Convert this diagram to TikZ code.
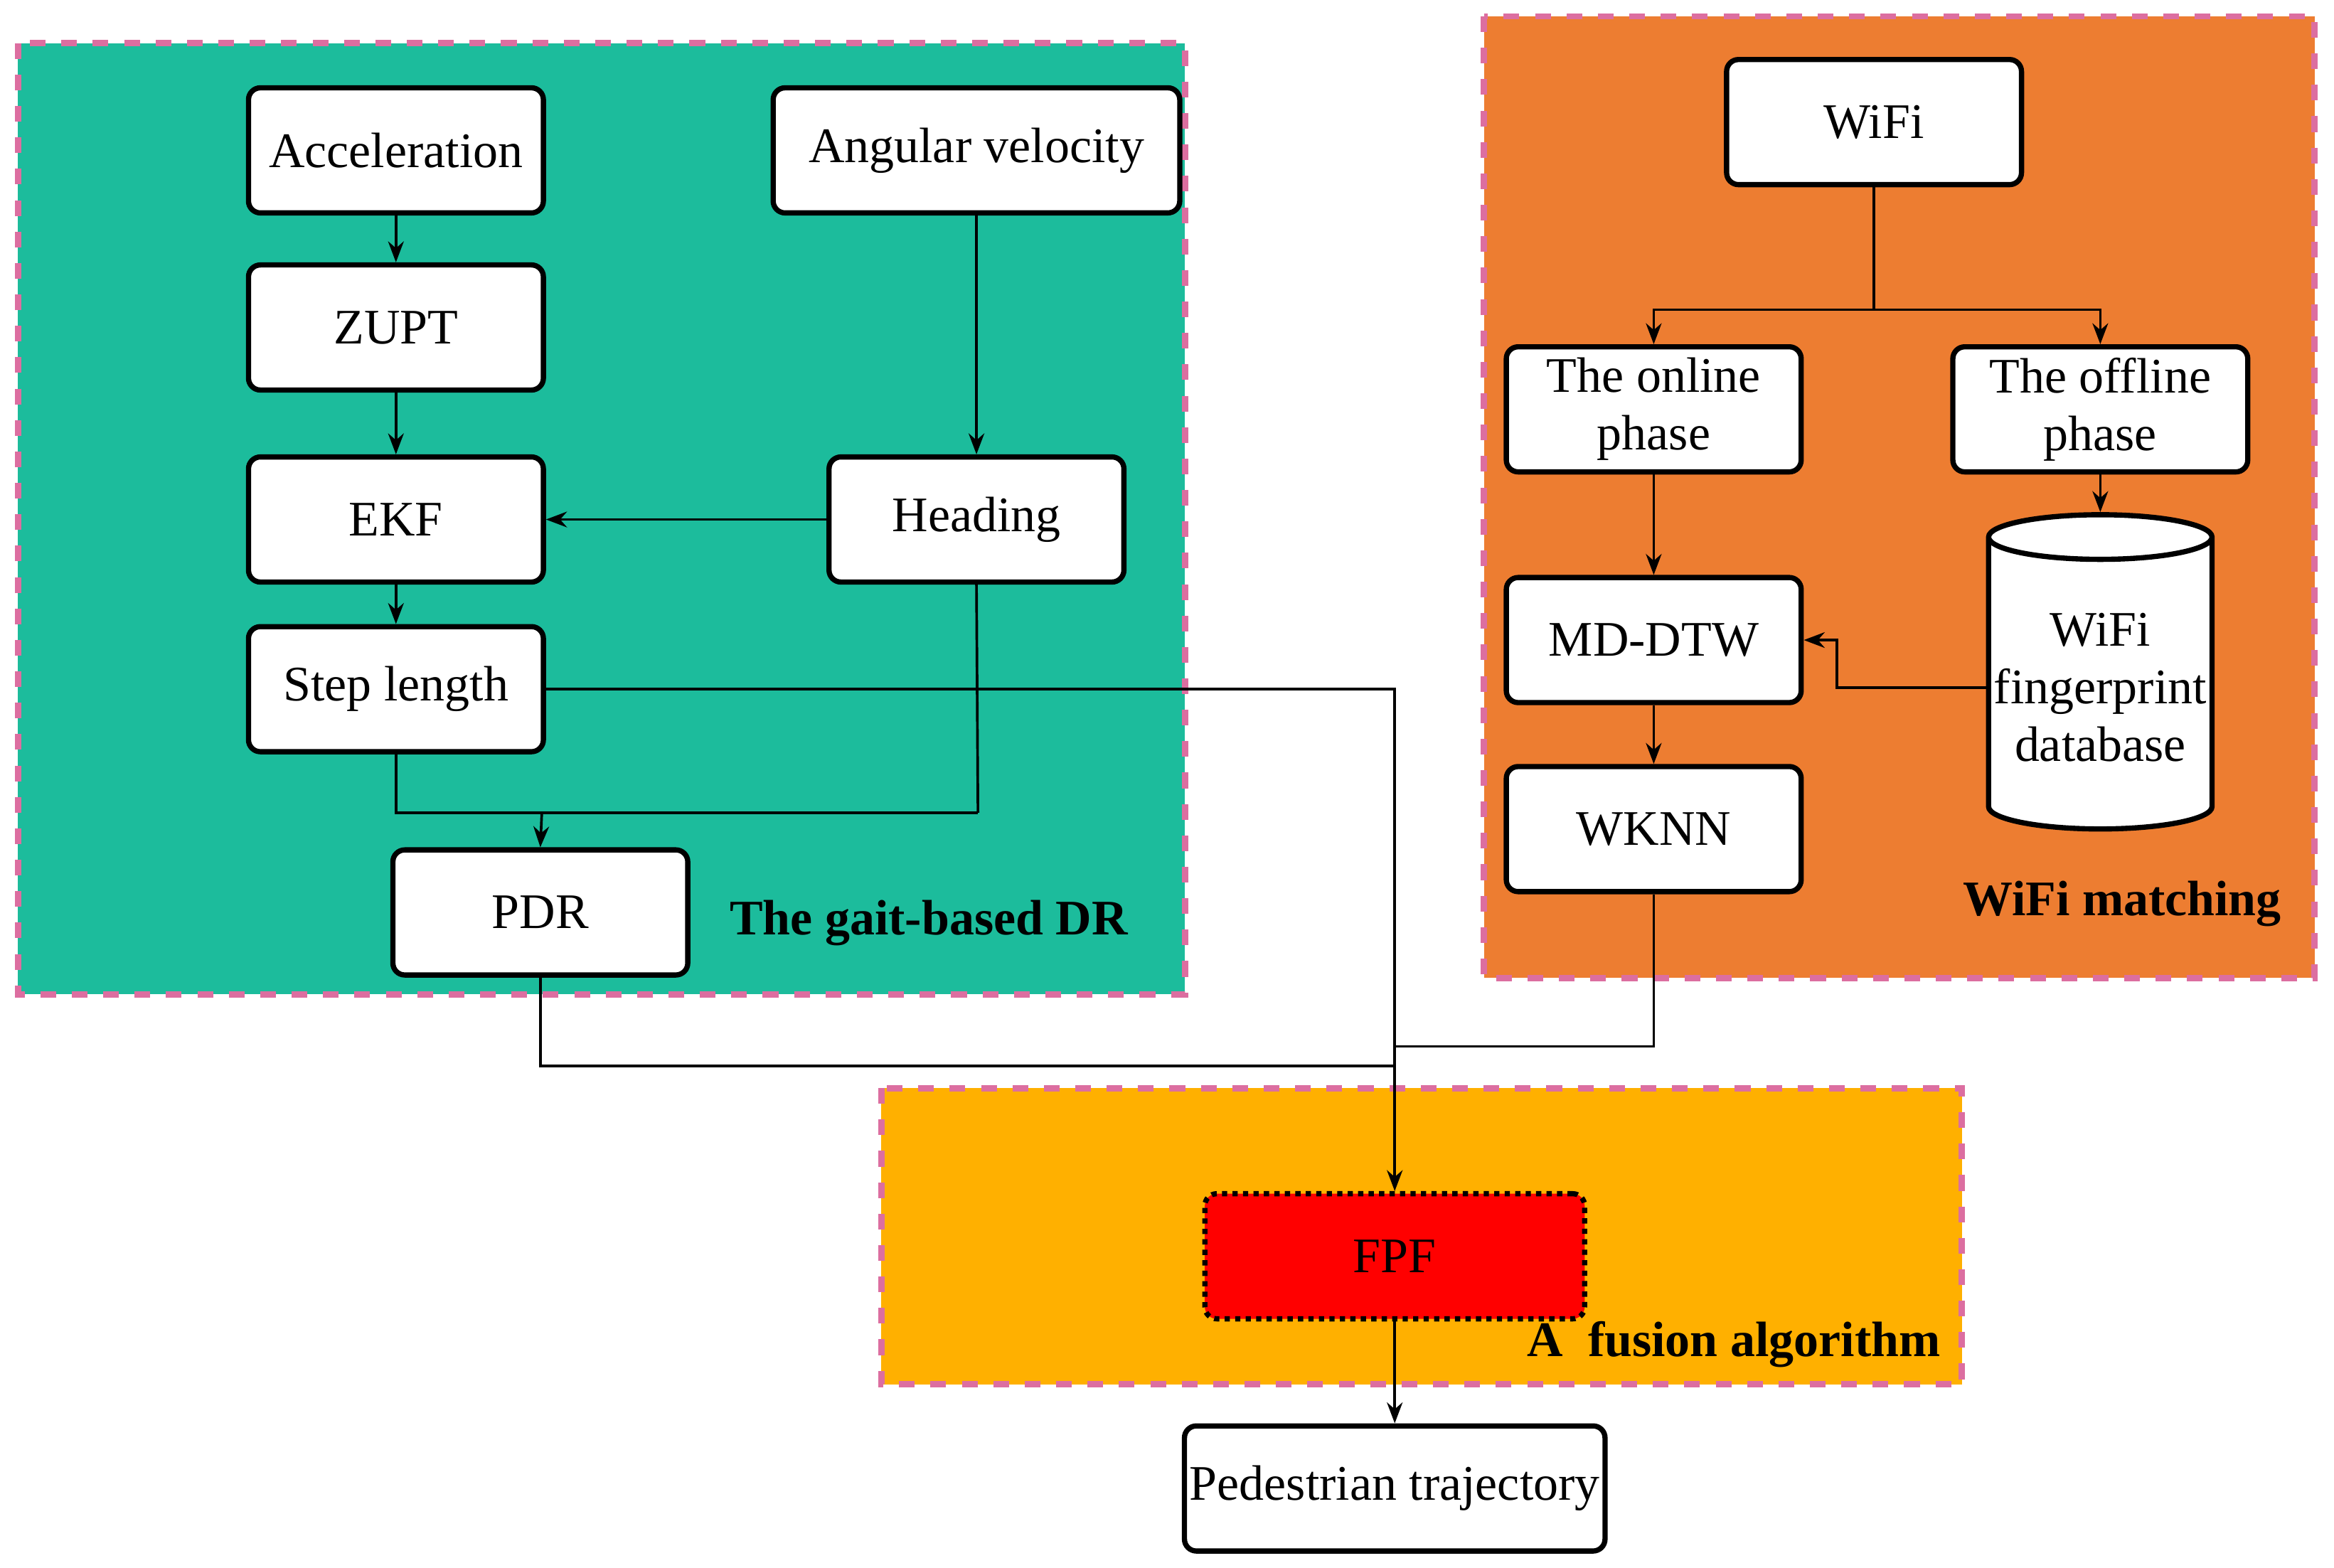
\documentclass[tikz,border=0pt]{standalone}
\usepackage{fontspec}
\setmainfont{Liberation Serif}
\usetikzlibrary{shapes.geometric,arrows.meta}
\definecolor{gr}{RGB}{28,188,156}
\definecolor{orr}{RGB}{237,125,49}
\definecolor{yl}{RGB}{255,176,0}
\definecolor{pk}{RGB}{220,110,160}
\begin{document}
\begin{tikzpicture}[x=0.01cm,y=-0.01cm,
  box/.style={draw,line width=1pt,rounded corners=0.08cm,fill=white,minimum width=1.98cm,minimum height=0.84cm,align=center,inner sep=1pt,font=\fontsize{9.5}{11}\selectfont},
  reg/.style={draw=pk,dashed,line width=1.2pt},
  ar/.style={-{Stealth[length=4pt,width=3pt]},line width=0.5pt},
  ln/.style={line width=0.5pt},
  lab/.style={font=\bfseries\fontsize{9.5}{11}\selectfont,anchor=east}]
\useasboundingbox (0,0) rectangle (1568,1053);
\fill[gr] (12,29) rectangle (796,668); \draw[reg] (12,29) rectangle (796,668);
\fill[orr] (997,11) rectangle (1555,657); \draw[reg] (997,11) rectangle (1555,657);
\fill[yl] (592,731) rectangle (1318,930); \draw[reg] (592,731) rectangle (1318,930);
\node[box] (acc) at (266,101) {Acceleration};
\node[box,minimum width=2.73cm] (ang) at (656,101) {Angular velocity};
\node[box] (zupt) at (266,220) {ZUPT};
\node[box] (ekf) at (266,349) {EKF};
\node[box] (head) at (656,349) {Heading};
\node[box] (step) at (266,463) {Step length};
\node[box] (pdr) at (363,613) {PDR};
\node[box] (wifi) at (1259,82) {WiFi};
\node[box] (on) at (1111,275) {The online\\phase};
\node[box] (off) at (1411,275) {The offline\\phase};
\node[draw,line width=1pt,fill=white,cylinder,shape border rotate=90,aspect=0.2,minimum width=1.5cm,minimum height=2.11cm,align=center,inner sep=1pt,font=\fontsize{9.5}{11}\selectfont] (db) at (1411,462) {WiFi\\fingerprint\\database};
\node[box] (md) at (1111,430) {MD-DTW};
\node[box] (wk) at (1111,557) {WKNN};
\node[box,minimum width=2.55cm,fill=red,draw,densely dotted] (fpf) at (937,844) {FPF};
\node[box,minimum width=2.55cm] (ped) at (937,1000) {Pedestrian trajectory};
\node[lab] at (770,620) {The gait-based DR};
\node[lab] at (1545,607) {WiFi matching};
\node[lab] at (1316,903) {A\ \ fusion algorithm};
\draw[ar] (acc) -- (zupt);
\draw[ar] (zupt) -- (ekf);
\draw[ar] (ekf) -- (step);
\draw[ar] (ang) -- (head);
\draw[ar] (head) -- (ekf);
\draw[ln] (step.south) |- (657,546);
\draw[ln] (head.south) -- (657,546);
\draw[ar] (364,546) -- (pdr.north);
\draw[ar] (step.east) -| (fpf.north);
\draw[ln] (pdr.south) |- (937,716);
\draw[ln] (wk.south) |- (937,703);
\draw[ln] (wifi.south) -- (1259,208);
\draw[ar] (1259,208) -| (on.north);
\draw[ar] (1259,208) -| (off.north);
\draw[ar] (off) -- (db.top);
\draw[ar] (on) -- (md);
\draw[ar] (md) -- (wk);
\draw[ar] (db.west) -| (1234,430) -- (md.east);
\draw[ar] (fpf) -- (ped);
\end{tikzpicture}
\end{document}
